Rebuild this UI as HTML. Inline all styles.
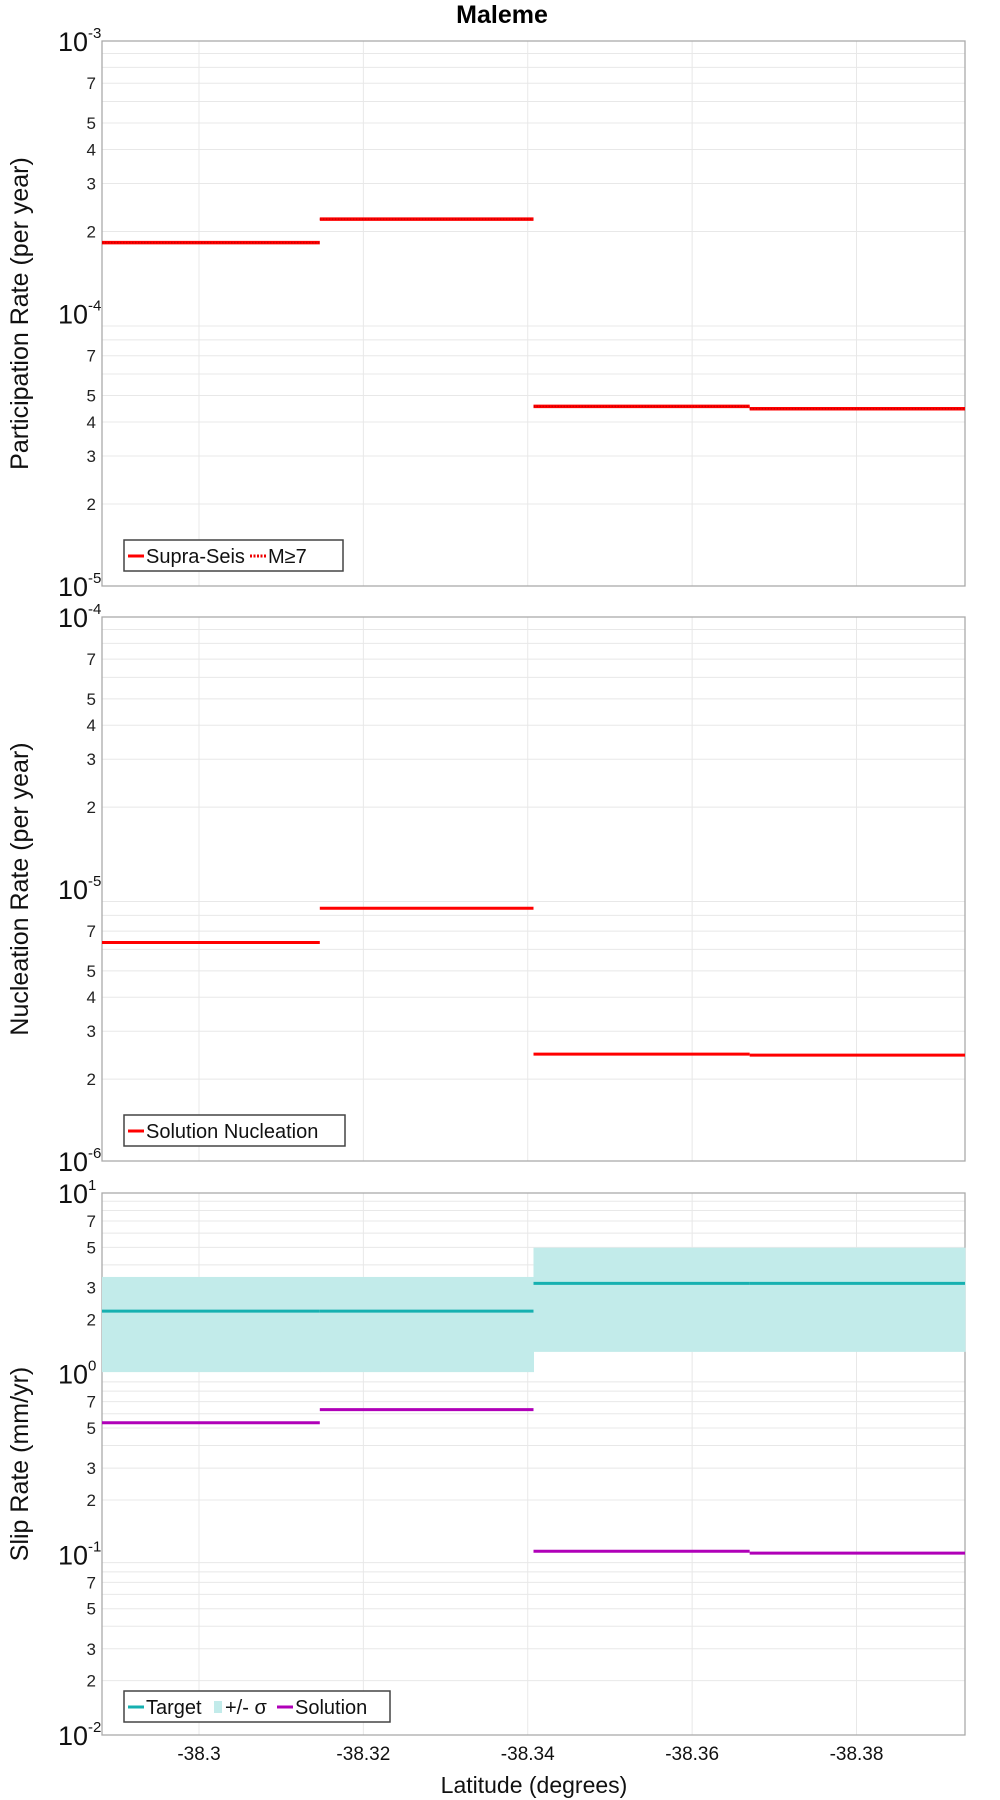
<!DOCTYPE html>
<html><head><meta charset="utf-8"><style>
html,body{margin:0;padding:0;background:#fff;}
svg{display:block;font-family:"Liberation Sans",sans-serif;}
</style></head><body>
<svg id="chart" width="1000" height="1800" viewBox="0 0 1000 1800"></svg>
<script>
const segEdges = [-38.2882, -38.3147, -38.3407, -38.367, -38.3932];
const partValues = [1.82e-4, 2.22e-4, 4.56e-5, 4.47e-5];
const nuclValues = [6.36e-6, 8.5e-6, 2.47e-6, 2.45e-6];
const targetValues = [2.22, 2.22, 3.16, 3.16];
const sigmaLow = [1.02, 1.02, 1.32, 1.32];
const sigmaHigh = [3.43, 3.43, 4.98, 4.98];
const solutionValues = [0.535, 0.632, 0.104, 0.1016];
const xTicks = [-38.3, -38.32, -38.34, -38.36, -38.38];
const xTickLabels = ["-38.3", "-38.32", "-38.34", "-38.36", "-38.38"];

const NS = "http://www.w3.org/2000/svg";
const svg = document.getElementById('chart');
const L = 102, R = 965;
function el(tag, attrs, parent) {
  const e = document.createElementNS(NS, tag);
  for (const k in attrs) e.setAttribute(k, attrs[k]);
  (parent || svg).appendChild(e);
  return e;
}
function xs(v) { return L + (v - segEdges[0]) / (segEdges[4] - segEdges[0]) * (R - L); }

function panel(name, top, bottom, logMax, logMin, labeled, title) {
  const g = el('g', {});
  
  
  const ys = v => top + (logMax - Math.log10(v)) / (logMax - logMin) * (bottom - top);
  for (let d = logMin; d < logMax; d++) {
    for (let m = 1; m <= 9; m++) {
      const v = m * Math.pow(10, d);
      const y = ys(v);
      if (m > 1) {
        const gl = el('line', {x1: L, x2: R, y1: y, y2: y, stroke: '#e8e8e8', 'stroke-width': 1}, g);
        
        
      }
      if (m > 1 && labeled.includes(m)) {
        const t = el('text', {x: 96, y: y + 6, 'font-size': 17, 'text-anchor': 'end', fill: '#222'}, g);
        t.textContent = m;
        
        
      }
    }
  }
  for (let d = logMin; d <= logMax; d++) {
    const y = ys(Math.pow(10, d));
    const t = el('text', {x: 58, y: y + 10, 'font-size': 27, fill: '#111'}, g);
    t.textContent = '10';
    
    
    const s = el('text', {x: 88, y: y - 3, 'font-size': 15, fill: '#111'}, g);
    s.textContent = String(d);
    
    
  }
  xTicks.forEach(v => {
    const vl = el('line', {x1: xs(v), x2: xs(v), y1: top, y2: bottom, stroke: '#e8e8e8', 'stroke-width': 1}, g);
    
    
  });
  const fr = el('rect', {x: L, y: top, width: R - L, height: bottom - top, fill: 'none', stroke: '#aaa', 'stroke-width': 1.3}, g);
  
  
  const cy = (top + bottom) / 2;
  const at = el('text', {x: 0, y: 0, 'font-size': 25, 'text-anchor': 'middle', fill: '#111', transform: `translate(28,${cy}) rotate(-90)`}, g);
  at.textContent = title;
  
  
  return {g, ys};
}
function steps(p, vals, color, w, name, dash) {
  vals.forEach((v, i) => {
    const a = {x1: xs(segEdges[i]), x2: xs(segEdges[i + 1]), y1: p.ys(v), y2: p.ys(v), stroke: color, 'stroke-width': w};
    if (dash) a['stroke-dasharray'] = dash;
    const ln = el('line', a, p.g);
    
    
  });
}
function legend(p, x, y, w, items) {
  const g = el('g', {}, p.g);
  
  
  el('rect', {x: x, y: y, width: w, height: 31, fill: '#fff', stroke: '#444', 'stroke-width': 1.5}, g);
  let cx = x + 4;
  items.forEach(it => {
    const e = el(it.type === 'band' ? 'rect' : 'line', it.type === 'band'
      ? {x: cx, y: y + 10, width: 8, height: 12, fill: it.color}
      : {x1: cx, x2: cx + 16, y1: y + 16, y2: y + 16, stroke: it.color, 'stroke-width': 3, 'stroke-dasharray': it.dash || 'none'}, g);
    
    
    cx += it.type === 'band' ? 11 : 18;
    const t = el('text', {x: cx, y: y + 23, 'font-size': 20, fill: '#111'}, g);
    t.textContent = it.label;
    
    
    cx += it.width;
  });
}

const title = el('text', {x: 502, y: 23, 'font-size': 25, 'font-weight': 'bold', 'text-anchor': 'middle', fill: '#000'});
title.textContent = 'Maleme';



const p1 = panel('participation-panel', 41, 586, -3, -5, [2,3,4,5,7], 'Participation Rate (per year)');
steps(p1, partValues, '#ff0000', 3.5, 'supra-seis-line');
steps(p1, partValues, '#cc0000', 1.5, 'm7-line', '1.5 1.5');
legend(p1, 124, 540, 219, [{label: 'Supra-Seis', color: '#f00', width: 104}, {label: 'M≥7', color: '#e00', dash: '2 1.5', width: 50}]);

const p2 = panel('nucleation-panel', 617, 1161, -4, -6, [2,3,4,5,7], 'Nucleation Rate (per year)');
steps(p2, nuclValues, '#ff0000', 3, 'solution-nucleation-line');
legend(p2, 124, 1115, 221, [{label: 'Solution Nucleation', color: '#f00', width: 190}]);

const p3 = panel('slip-rate-panel', 1193, 1735, 1, -2, [2,3,5,7], 'Slip Rate (mm/yr)');
sigmaLow.forEach((v, i) => {
  const y1 = p3.ys(sigmaHigh[i]), y2 = p3.ys(v);
  const r = el('rect', {x: xs(segEdges[i]), y: y1, width: xs(segEdges[i + 1]) - xs(segEdges[i]) + 0.5, height: y2 - y1, fill: '#c2ebea'}, p3.g);
  
  
});
steps(p3, targetValues, '#16b0b0', 3, 'target-line');
steps(p3, solutionValues, '#b000b8', 3, 'solution-line');
legend(p3, 124, 1691, 266, [{label: 'Target', color: '#16b0b0', width: 68}, {type: 'band', label: '+/- σ', color: '#c2ebea', width: 52}, {label: 'Solution', color: '#b000b8', width: 80}]);

xTicks.forEach((v, i) => {
  const t = el('text', {x: xs(v), y: 1760, 'font-size': 19, 'text-anchor': 'middle', fill: '#111'});
  t.textContent = xTickLabels[i];
  
  
});
const xt = el('text', {x: 534, y: 1793, 'font-size': 23, 'text-anchor': 'middle', fill: '#111'});
xt.textContent = 'Latitude (degrees)';


</script>
</body></html>
